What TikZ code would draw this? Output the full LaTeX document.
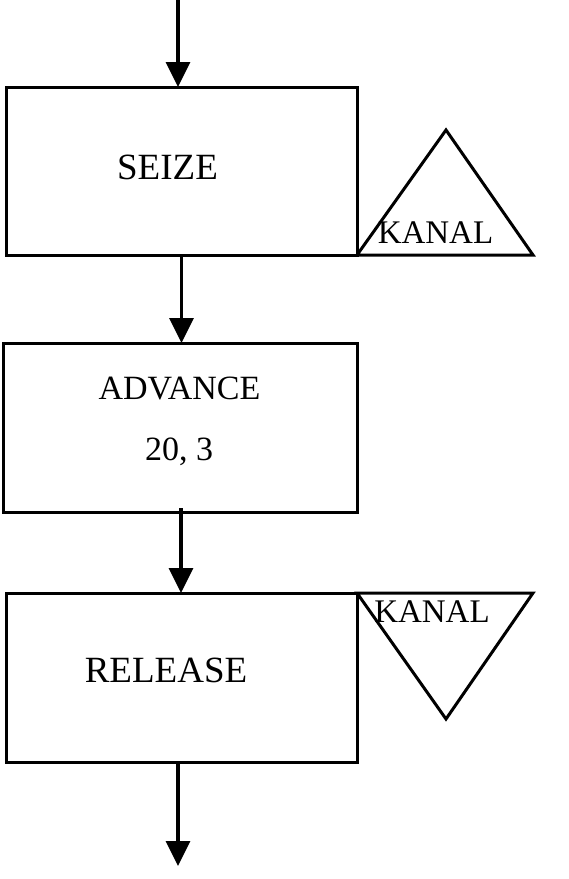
\documentclass[tikz,border=0pt]{standalone}
\usepackage{fontspec}
\setmainfont{Liberation Serif}
\usetikzlibrary{arrows.meta}
\begin{document}
\begin{tikzpicture}[x=1pt,y=-1pt,
  blockbox/.style={draw, line width=3pt, inner sep=0pt, outer sep=0pt, minimum width=351pt, minimum height=168pt},
  arr/.style={line width=3.2pt, -{Triangle[width=24pt,length=25pt]}},
  tri/.style={draw, line width=3pt, line join=miter},
  big/.style={anchor=base, inner sep=0pt, font=\fontsize{37}{40}\selectfont},
  mid/.style={anchor=base, inner sep=0pt, font=\fontsize{33}{36}\selectfont}]
\useasboundingbox (0,0) rectangle (569,879);
% boxes
\node[blockbox] (seize) at (181.5,171) {};
\node[blockbox, minimum width=354pt, minimum height=169pt] (advance) at (180,427.5) {};
\node[blockbox, minimum height=169pt] (release) at (181.5,677.5) {};
% texts
\node[big] (seizetxt) at (167.5,179) {SEIZE};
\node[mid, font=\fontsize{34}{36}\selectfont] (advtxt) at (179.5,399) {ADVANCE};
\node[mid, font=\fontsize{34}{36}\selectfont] (advarg) at (179,460) {20, 3};
\node[big] (reltxt) at (166,682) {RELEASE};
% triangles
\draw[tri] (seize.south east) -- (446,130) -- (533,255) -- cycle;
\draw[tri] (release.north east) -- (533,593) -- (446,719) -- cycle;
\node[mid] (kanal1) at (435.5,243) {KANAL};
\node[mid] (kanal2) at (432,622) {KANAL};
% connectors
\coordinate (src) at (178,0);
\coordinate (sink) at (178,866);
\coordinate (mid3) at (181,0);
\draw[arr] (src) -- (src |- seize.north);
\draw[arr] (seize.south) -- (seize.south |- advance.north);
\draw[arr] ([yshift=4pt]mid3 |- advance.south) -- (mid3 |- release.north);
\draw[arr] (sink |- release.south) -- (sink);
\end{tikzpicture}
\end{document}
